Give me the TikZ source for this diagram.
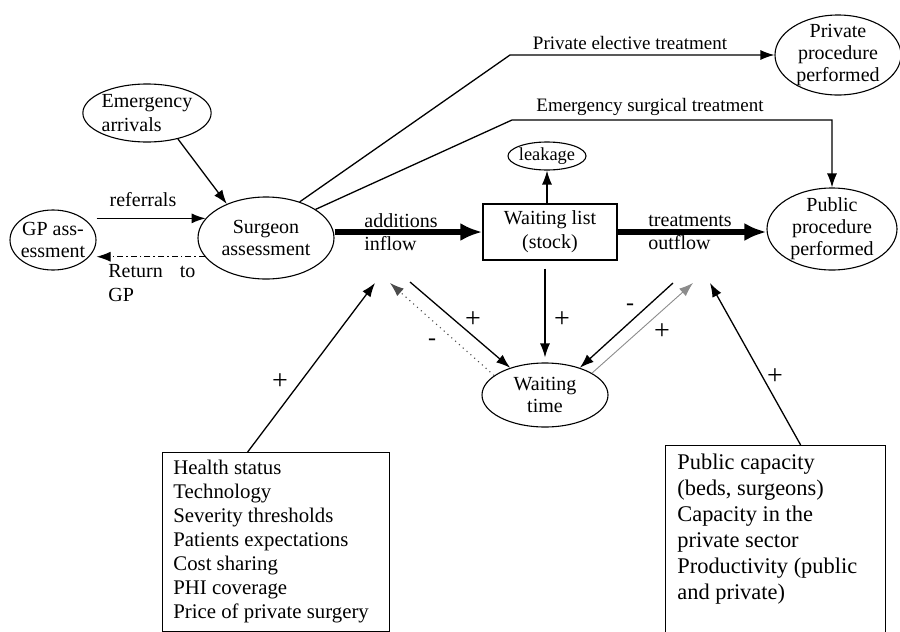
\documentclass[tikz,border=0pt]{standalone}
\usepackage{fontspec}
\setmainfont{Liberation Serif}
\usetikzlibrary{shapes.geometric,arrows.meta}
\begin{document}
\begin{tikzpicture}[x=0.5pt,y=-0.5pt,
  every node/.style={font=\fontsize{10}{12}\selectfont},
  ell/.style={draw,ellipse,inner sep=0pt,line width=0.55pt,align=center,font=\fontsize{10}{11}\selectfont},
  ar/.style={line width=0.65pt,-{Latex[length=7pt,width=5pt]}},
  flowar/.style={line width=3pt,-{Latex[length=11pt,width=9pt]}},
  dashdotar/.style={line width=0.5pt,dash pattern=on 3pt off 1.5pt on 0.8pt off 1.5pt,-{Latex[length=7pt,width=5pt]}},
  dotar/.style={line width=0.55pt,black!70,dotted,-{Latex[length=7pt,width=5pt]}},
  greyar/.style={line width=0.45pt,black!45,-{Latex[length=7pt,width=5pt]}},
  plus/.style={font=\fontsize{14}{16}\selectfont,inner sep=0pt},
  minus/.style={font=\fontsize{12}{14}\selectfont,inner sep=0pt},
  lbl/.style={inner sep=0pt},
  boxframe/.style={draw,line width=0.65pt,inner sep=0pt}
]
\clip (0,0) rectangle (900,632);
\fill[white] (0,0) rectangle (900,632);

% ellipses
\node[ell,minimum width=43pt,minimum height=30pt,inner xsep=-1pt] (gp) at (53,240) {GP ass-\\essment};
\node[ell,minimum width=68pt,minimum height=41pt] (surg) at (266,238) {Surgeon\\assessment};
\node[ell,minimum width=64pt,minimum height=29pt,align=left,font=\fontsize{10}{12}\selectfont] (emerg) at (147,113) {Emergency\\arrivals};
\node[ell,minimum width=39pt,minimum height=14pt,inner xsep=-3pt,inner ysep=-1.5pt,font=\fontsize{9.2}{10}\selectfont] (leak) at (547,156) {leakage};
\node[ell,minimum width=65pt,minimum height=41pt,inner ysep=-1.5pt] (pub) at (832,229) {Public\\procedure\\performed};
\node[ell,minimum width=63pt,minimum height=40pt,inner ysep=-1.5pt] (priv) at (838,55) {Private\\procedure\\performed};
\node[ell,minimum width=63pt,minimum height=32pt] (wt) at (545,395) {Waiting\\time};

% waiting list box
\node[draw,line width=0.65pt,minimum width=67pt,minimum height=28pt,inner sep=0pt,align=center] (wl) at (550,232) {Waiting list\\(stock)};

% bottom boxes
\node[boxframe,anchor=north west,minimum width=113.5pt,minimum height=89.5pt] (hb) at (162,452) {};
\node[anchor=north west,align=left,inner sep=0pt,font=\fontsize{10.4}{12}\selectfont] (hbtext) at (173,460) {Health status\\Technology\\Severity thresholds\\Patients expectations\\Cost sharing\\PHI coverage\\Price of private surgery};
\node[boxframe,anchor=north west,minimum width=110pt,minimum height=103pt] (pc) at (665,445) {};
\node[anchor=north west,align=left,inner sep=0pt,font=\fontsize{11.2}{13}\selectfont] (pctext) at (677,454) {Public capacity\\(beds, surgeons)\\Capacity in the\\private sector\\Productivity (public\\and private)};

% coordinates
\coordinate (c1) at (510,55);
\coordinate (c2) at (512,120);
\coordinate (inA) at (375,283);
\coordinate (inB) at (390,283);
\coordinate (outA) at (410,282);
\coordinate (outB) at (673,283);
\coordinate (inC) at (693,283);
\coordinate (inD) at (710,283);

% connectors
\draw[ar] (emerg.-40) -- (surg.139.5);
\draw[ar] (surg.162 -| gp.east) -- (surg.162);
\draw[dashdotar] (surg.197.6) -- (surg.197.6 -| gp.east);
\draw[flowar] (wl.west -| surg.east) -- (wl.west);
\draw[flowar] (wl.east) -- (wl.east -| pub.west);
\draw[ar] (wl.north -| leak.south) -- (leak.south);
\draw[ar,shorten <=4pt,shorten >=2.5pt] (wl.south -| wt.north) -- (wt.north);
\draw[ar] (surg.47) -- (c1) -- (priv.west);
\draw[ar] (surg.30) -- (c2) -- (c2 -| pub.north) -- (pub.north);

\draw[ar] ([xshift=-14.25pt]hb.north) -- (inA);
\draw[dotar] (wt.159) -- (inB);
\draw[ar] (outA) -- (wt.142);
\draw[ar] (outB) -- (wt.38);
\draw[greyar] (wt.25.7) -- (inC);
\draw[ar] ([xshift=12.5pt]pc.north) -- (inD);

% labels
\node[lbl] (lref) at (143,200) {referrals};
\node[lbl,anchor=west,align=left] (lret) at (108,283) {Return\hspace{8.5pt}to\\GP};
\node[lbl,anchor=west,align=left,font=\fontsize{10}{11.5}\selectfont] (ladd) at (364,232) {additions\\inflow};
\node[lbl,anchor=west,align=left,font=\fontsize{10}{11.5}\selectfont] (ltr) at (648,232) {treatments\\outflow};
\node[lbl,font=\fontsize{9.5}{11}\selectfont] (lpriv) at (630,43) {Private elective treatment};
\node[lbl,font=\fontsize{9.5}{11}\selectfont] (lemerg) at (650,107) {Emergency surgical treatment};

\node[plus] (s1) at (280,382) {+};
\node[minus] (s2) at (432,342) {-};
\node[plus] (s3) at (473,320) {+};
\node[plus] (s4) at (562,320) {+};
\node[minus] (s5) at (630,307) {-};
\node[plus] (s6) at (662,332) {+};
\node[plus] (s7) at (775,377) {+};
\end{tikzpicture}
\end{document}
